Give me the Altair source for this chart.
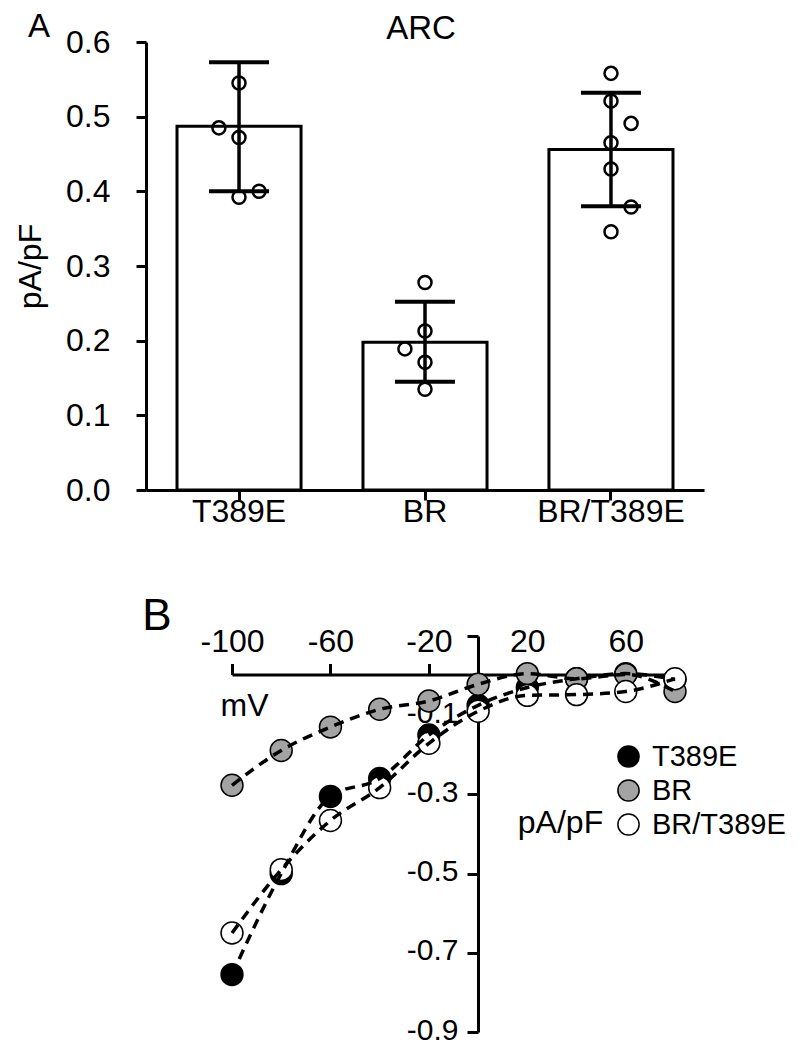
import altair as alt
import pandas as pd

FONT = "Liberation Sans"

# ---------------- Panel A data ----------------
groups = ["T389E", "BR", "BR/T389E"]
bar_means = [0.487, 0.198, 0.456]
err_high = [0.573, 0.252, 0.532]
err_low = [0.400, 0.145, 0.380]

pt_group = ["T389E"] * 5 + ["BR"] * 5 + ["BR/T389E"] * 7
pt_value = [0.545, 0.485, 0.472, 0.392, 0.400,
            0.278, 0.213, 0.189, 0.171, 0.135,
            0.558, 0.521, 0.491, 0.465, 0.430, 0.379, 0.346]
pt_jitter = [0, -1, 0, 0, 1,
             0, 0, -1, 0, 0,
             0, 0, 1, 0, 0, 1, 0]

# ---------------- Panel B data ----------------
voltages = [-100, -80, -60, -40, -20, 0, 20, 40, 60, 80]
iv_t389e = [-0.755, -0.50, -0.305, -0.26, -0.15, -0.075, -0.03, -0.008, 0.005, -0.01]
iv_br = [-0.277, -0.189, -0.13, -0.085, -0.064, -0.022, 0.005, -0.008, 0.003, -0.04]
iv_br_t389e = [-0.65, -0.49, -0.366, -0.283, -0.171, -0.09, -0.05, -0.048, -0.04, -0.008]

series_colors = ["black", "#a3a3a3", "white"]

bars_df = pd.DataFrame({"group": groups, "mean": bar_means, "hi": err_high, "lo": err_low})
pts_df = pd.DataFrame({"group": pt_group, "value": pt_value, "jit": pt_jitter})
iv_rows = []
for name, vals in zip(groups, [iv_t389e, iv_br, iv_br_t389e]):
    for v, i in zip(voltages, vals):
        iv_rows.append({"series": name, "V": v, "I": i})
iv_df = pd.DataFrame(iv_rows)

FS = 32

# ---------------- Scales / axes ----------------
xA_scale = alt.Scale(domain=groups, range=[0, 558], paddingInner=0.333, paddingOuter=0.1667)
yA_scale = alt.Scale(domain=[0, 0.6], range=[448, 0], nice=False, zero=False)
xA_axis = alt.Axis(orient="bottom", offset=-542, title=None, labelAngle=0, labelPadding=11,
                   labelBaseline="middle", tickSize=10)
yA_axis = alt.Axis(orient="left", values=[0, 0.1, 0.2, 0.3, 0.4, 0.5, 0.6], format=".1f",
                   title="pA/pF", labelPadding=26, tickSize=10,
                   titleX=-116, titleY=224, titleAngle=270, titleAlign="center",
                   titleBaseline="middle")

xB_scale = alt.Scale(domain=[-100, 80], range=[86, 529], nice=False, zero=False)
yB_scale = alt.Scale(domain=[-0.9, 0.1], range=[990, 594], nice=False, zero=False)
xB_axis = alt.Axis(orient="top", offset=-632.5, values=[-100, -60, -20, 20, 60],
                   labelExpr="datum.value < 0 ? '-' + format(abs(datum.value), 'd') : format(datum.value, 'd')",
                   title="mV", titleAngle=0, titleX=98, titleY=31, titleAlign="center",
                   titleBaseline="middle", tickSize=11, labelPadding=5)
yB_axis = alt.Axis(orient="left", offset=-332, values=[-0.9, -0.7, -0.5, -0.3, -0.1, 0.1],
                   labelExpr="datum.value < 0 ? '-' + format(abs(datum.value), '.1f') : ''",
                   title="pA/pF", titleAngle=0, titleX=82, titleY=780, titleAlign="center",
                   titleBaseline="middle", tickSize=11, labelPadding=9, labelFontSize=30,
                   labelOffset=-2)

# ---------------- Panel A ----------------
xA = alt.X("group:N", scale=xA_scale, axis=xA_axis, sort=groups)
bars = alt.Chart(bars_df).mark_bar(fill="white", stroke="black", strokeWidth=3).encode(
    x=xA, y=alt.Y("mean:Q", scale=yA_scale, axis=yA_axis))
err = alt.Chart(bars_df).mark_rule(color="black", strokeWidth=3.5).encode(
    x=xA, y=alt.Y("lo:Q", scale=yA_scale, axis=yA_axis), y2="hi:Q")
cap_hi = alt.Chart(bars_df).mark_tick(color="black", thickness=4, size=60, opacity=1).encode(
    x=xA, y=alt.Y("hi:Q", scale=yA_scale, axis=yA_axis))
cap_lo = alt.Chart(bars_df).mark_tick(color="black", thickness=4, size=60, opacity=1).encode(
    x=xA, y=alt.Y("lo:Q", scale=yA_scale, axis=yA_axis))
panelA = alt.layer(bars, err, cap_hi, cap_lo)

# individual cells: category index plus a small jitter step, on a linear scale matching band centres
pts = alt.Chart(pts_df).transform_calculate(
    pos="indexof(['T389E','BR','BR/T389E'], datum.group) + datum.jit * 0.108"
).mark_point(shape="circle", filled=False, color="black",
             strokeWidth=2.5, size=170, opacity=1).encode(
    x=alt.X("pos:Q", scale=alt.Scale(domain=[0, 2], range=[93, 465], nice=False, zero=False),
            axis=None),
    y=alt.Y("value:Q", scale=yA_scale, axis=None))

# ---------------- Panel B ----------------
xB = alt.X("V:Q", scale=xB_scale, axis=xB_axis)
yB = alt.Y("I:Q", scale=yB_scale, axis=yB_axis)
dots = alt.Chart(iv_df).mark_circle(stroke="black", strokeWidth=1.5, size=480, opacity=1).encode(
    x=xB, y=yB,
    fill=alt.Fill("series:N", scale=alt.Scale(domain=groups, range=series_colors),
                  legend=alt.Legend(orient="none", legendX=468, legendY=700, title=None,
                                    symbolType="circle", symbolSize=450,
                                    symbolStrokeColor="black", symbolStrokeWidth=1.5,
                                    labelFontSize=29, labelFont=FONT, labelColor="black",
                                    rowPadding=4, labelOffset=9, padding=0)))
lines = alt.Chart(iv_df).mark_line(color="black", strokeWidth=3.5, strokeDash=[10, 7],
                                   interpolate="monotone").encode(
    x=xB, y=yB, detail="series:N")
panelB = alt.layer(dots, lines)

# ---------------- Annotations ----------------
def label(txt, x, y, size):
    return alt.Chart(pd.DataFrame({"t": [txt]})).mark_text(
        font=FONT, fontSize=size, color="black", align="center", baseline="middle").encode(
        text="t:N", x=alt.value(x), y=alt.value(y))

texts = alt.layer(label("ARC", 275, -13, 33), label("A", -107, -15, 33), label("B", 11, 575, 44))

chart = alt.layer(panelA, pts, panelB, texts).resolve_scale(
    x="independent", y="independent", fill="independent"
).resolve_axis(x="independent", y="independent").properties(
    width=558, height=990,
    autosize=alt.AutoSizeParams(type="none"),
    padding={"left": 138, "top": 34, "right": 88, "bottom": 12},
).configure_view(stroke=None).configure_axis(
    grid=False, domainColor="black", tickColor="black", labelColor="black", titleColor="black",
    domainWidth=3, tickWidth=3, labelFont=FONT, titleFont=FONT, labelFontSize=FS,
    titleFontSize=FS, titleFontWeight="normal", labelFlush=False, labelOverlap=False
)

chart.save("out.html", embed_options={"renderer": "svg", "actions": False})
